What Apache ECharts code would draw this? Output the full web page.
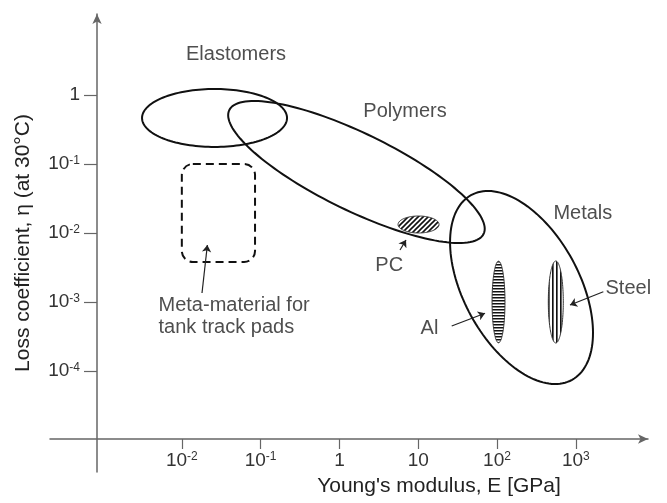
<!DOCTYPE html>
<html>
<head>
<meta charset="utf-8">
<script src="https://cdn.jsdelivr.net/npm/echarts@6/dist/echarts.min.js"></script>
<style>
html,body{margin:0;padding:0;background:#fff;}
#chart{width:667px;height:503px;}
</style>
</head>
<body>
<div id="chart"></div>
<script>
// ---------- DATA (all positions in decades: log10 E [GPa], log10 eta) ----------
const xTickExponents = [-2, -1, 0, 1, 2, 3];
const yTickExponents = [0, -1, -2, -3, -4];

// property regions (ellipses): centre, half-extent along E, half-extent along eta, tilt (correlation)
const regionNames      = ['Elastomers', 'Polymers', 'Metals', 'PC', 'Al', 'Steel'];
const regionLogE       = [-1.585, 0.216, 2.311, 1.004, 2.019, 2.746];
const regionLogEta     = [-0.333, -1.116, -2.790, -1.877, -3.000, -3.000];
const regionHalfWidth  = [0.920, 1.628, 0.907, 0.260, 0.082, 0.095];
const regionHalfHeight = [0.420, 1.029, 1.399, 0.123, 0.591, 0.594];
const regionTilt       = [0.00, -0.80, -0.47, 0.00, 0.00, 0.00];
const regionHatch      = ['none', 'none', 'none', 'diagonal', 'horizontal', 'vertical'];

// meta-material target box: [logE min, logEta max, logE max, logEta min]
const metaBox = [-2.0, -1.0, -1.071, -2.42];

// text labels
const labelText   = ['Elastomers', 'Polymers', 'Metals', 'PC', 'Al', 'Steel'];
const labelLogE   = [-1.312, 0.832, 3.089, 0.632, 1.143, 3.666];
const labelLogEta = [0.580, -0.232, -1.710, -2.478, -3.391, -2.801];
const metaLabel   = 'Meta-material for\ntank track pads';
const metaLabelPos = [-2.302, -3.203];

// annotation arrows: from -> to
const arrowFromE   = [-1.744, 0.769, 1.425, 3.349];
const arrowFromEta = [-2.870, -2.246, -3.348, -2.851];
const arrowToE     = [-1.676, 0.845, 1.848, 2.926];
const arrowToEta   = [-2.174, -2.101, -3.164, -3.043];

// ---------- rendering ----------
const FONT = '"Liberation Sans", Arial, Helvetica, sans-serif';

function makePattern(kind) {
  const c = document.createElement('canvas');
  const ctx = c.getContext('2d');
  if (kind === 'horizontal') {
    c.width = 3; c.height = 3;
    ctx.fillStyle = '#fff'; ctx.fillRect(0, 0, 3, 3);
    ctx.fillStyle = '#111'; ctx.fillRect(0, 0, 3, 1);
    ctx.fillStyle = '#888'; ctx.fillRect(0, 1, 3, 1);
  } else if (kind === 'vertical') {
    c.width = 4; c.height = 4;
    ctx.fillStyle = '#fff'; ctx.fillRect(0, 0, 4, 4);
    ctx.fillStyle = '#111'; ctx.fillRect(0, 0, 1, 4);
    ctx.fillStyle = '#666'; ctx.fillRect(1, 0, 1, 4);
  } else {
    c.width = 5; c.height = 5;
    ctx.fillStyle = '#fff'; ctx.fillRect(0, 0, 5, 5);
    ctx.strokeStyle = '#111'; ctx.lineWidth = 1.6;
    ctx.beginPath();
    ctx.moveTo(-1, 1); ctx.lineTo(1, -1);
    ctx.moveTo(0, 5); ctx.lineTo(5, 0);
    ctx.moveTo(4, 6); ctx.lineTo(6, 4);
    ctx.stroke();
  }
  return { image: c, repeat: 'repeat' };
}
const patterns = {
  horizontal: makePattern('horizontal'),
  vertical: makePattern('vertical'),
  diagonal: makePattern('diagonal')
};

function expLabel(v) {
  const n = Math.round(v);
  if (n === 0) return '1';
  if (n === 1) return '10';
  return '10{sup|' + n + '}';
}

function renderRegion(params, api) {
  const cx = api.value(0), cy = api.value(1);
  const rx = api.value(2), ry = api.value(3), rho = api.value(4);
  const s = Math.sqrt(1 - rho * rho);
  const pts = [];
  const N = 144;
  for (let k = 0; k < N; k++) {
    const t = 2 * Math.PI * k / N;
    pts.push(api.coord([cx + rx * Math.cos(t), cy + ry * (rho * Math.cos(t) + s * Math.sin(t))]));
  }
  const kind = regionHatch[params.dataIndex];
  const hatched = kind !== 'none';
  return {
    type: 'polygon',
    shape: { points: pts },
    style: {
      fill: hatched ? patterns[kind] : 'none',
      stroke: hatched ? '#333' : '#111',
      lineWidth: hatched ? 1 : 2
    }
  };
}

function renderBox(params, api) {
  const p0 = api.coord([api.value(0), api.value(1)]);
  const p1 = api.coord([api.value(2), api.value(3)]);
  return {
    type: 'rect',
    shape: {
      x: Math.min(p0[0], p1[0]), y: Math.min(p0[1], p1[1]),
      width: Math.abs(p1[0] - p0[0]), height: Math.abs(p1[1] - p0[1]), r: 11
    },
    style: { fill: 'none', stroke: '#111', lineWidth: 2, lineDash: [8, 5] }
  };
}

const axisColor = '#666';
const textColor = '#222';

const option = {
  animation: false,
  backgroundColor: '#fff',
  textStyle: { fontFamily: FONT },
  grid: { left: 50, right: 19, top: 14, bottom: 31, containLabel: false, outerBoundsMode: 'none' },
  xAxis: {
    type: 'value', min: -3.673, max: 3.916, position: 'bottom', offset: -33,
    axisLine: { show: true, onZero: false, symbol: ['none', 'arrow'], symbolSize: [7, 10],
      lineStyle: { color: axisColor, width: 1.5 } },
    axisTick: { show: true, customValues: xTickExponents, length: 10, inside: false,
      lineStyle: { color: axisColor, width: 1.2 } },
    axisLabel: { show: true, customValues: xTickExponents, formatter: expLabel, margin: 12,
      fontSize: 19, color: '#333', fontFamily: FONT,
      rich: { sup: { fontSize: 12, verticalAlign: 'top', color: '#333', fontFamily: FONT } } },
    splitLine: { show: false },
    name: "Young's modulus, E [GPa]", nameLocation: 'middle', nameGap: 37,
    nameTextStyle: { fontSize: 21, color: textColor, fontFamily: FONT, padding: [0, 0, 0, 180] }
  },
  yAxis: {
    type: 'value', min: -5.464, max: 1.174, position: 'left', offset: -47,
    axisLine: { show: true, onZero: false, symbol: ['none', 'arrow'], symbolSize: [7, 10],
      lineStyle: { color: axisColor, width: 1.5 } },
    axisTick: { show: true, customValues: yTickExponents, length: 13, inside: false,
      lineStyle: { color: axisColor, width: 1.2 } },
    axisLabel: { show: true, customValues: yTickExponents, formatter: expLabel, margin: 17,
      fontSize: 19, color: '#333', fontFamily: FONT,
      rich: { sup: { fontSize: 12, verticalAlign: 'top', color: '#333', fontFamily: FONT } } },
    splitLine: { show: false },
    name: 'Loss coefficient, η (at 30°C)', nameLocation: 'middle', nameGap: 63,
    nameTextStyle: { fontSize: 21, color: textColor, fontFamily: FONT }
  },
  series: [
    {
      type: 'custom', name: 'regions', silent: true,
      dimensions: ['logE', 'logEta', 'halfW', 'halfH', 'tilt'],
      encode: { x: 0, y: 1 },
      renderItem: renderRegion,
      data: regionNames.map((n, i) => ({
        name: n,
        value: [regionLogE[i], regionLogEta[i], regionHalfWidth[i], regionHalfHeight[i], regionTilt[i]]
      }))
    },
    {
      type: 'custom', name: 'meta box', silent: true,
      encode: { x: [0, 2], y: [1, 3] },
      renderItem: renderBox,
      data: [metaBox]
    },
    {
      type: 'lines', coordinateSystem: 'cartesian2d', silent: true,
      symbol: ['none', 'arrow'], symbolSize: 7,
      lineStyle: { color: '#222', width: 1.2, opacity: 1, curveness: 0 },
      data: arrowFromE.map((x, i) => ({ coords: [[x, arrowFromEta[i]], [arrowToE[i], arrowToEta[i]]] }))
    },
    {
      type: 'scatter', silent: true, symbolSize: 1,
      itemStyle: { color: 'rgba(0,0,0,0)' },
      label: { show: true, position: 'inside', formatter: '{b}', fontSize: 20, color: textColor, fontFamily: FONT },
      data: labelText.map((t, i) => ({ name: t, value: [labelLogE[i], labelLogEta[i]] }))
        .concat([{
          name: metaLabel, value: metaLabelPos,
          label: { position: 'right', distance: 0, align: 'left', lineHeight: 22 }
        }])
    }
  ]
};

const chart = echarts.init(document.getElementById('chart'), null, { renderer: 'canvas' });
chart.setOption(option);
</script>
</body>
</html>
